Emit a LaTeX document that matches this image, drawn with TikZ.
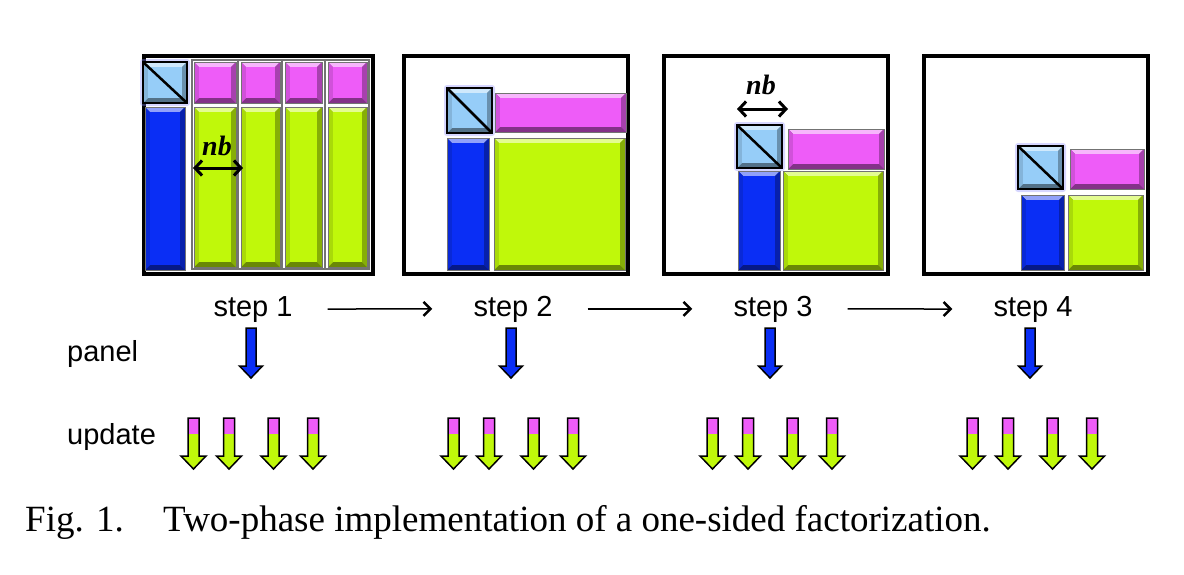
\documentclass[tikz,border=0pt]{standalone}
\usepackage{fontspec}
\setmainfont{Liberation Serif}
\newfontfamily\arialf{Liberation Sans}
\usetikzlibrary{arrows.meta}
\definecolor{lblue}{HTML}{96CDF8}
\definecolor{magc}{HTML}{EE5CF8}
\definecolor{dblue}{HTML}{0A2EF5}
\definecolor{lgreen}{HTML}{C0F80A}
\newcommand\bevw{5}
% bevelled block: x1 y1 x2 y2 colour
\newcommand\bev[5]{%
 \fill[#5!55!black] (#1,#2) rectangle (#3,#4);
 \fill[#5!45!white] (#1,#2) -- (#3,#2) -- ({#3-\bevw},{#2+\bevw}) -- ({#1+\bevw},{#2+\bevw}) -- cycle;
 \fill[#5!88!black] (#1,#2) -- ({#1+\bevw},{#2+\bevw}) -- ({#1+\bevw},{#4-\bevw}) -- (#1,#4) -- cycle;
 \fill[#5!70!black] (#3,#2) -- (#3,#4) -- ({#3-\bevw},{#4-\bevw}) -- ({#3-\bevw},{#2+\bevw}) -- cycle;
 \fill[#5] ({#1+\bevw},{#2+\bevw}) rectangle ({#3-\bevw},{#4-\bevw});
 \draw[black!55, line width=1] (#1,#2) rectangle (#3,#4);
}
% diagonal block
\newcommand\diagblk[4]{%
 \fill[blue!45, opacity=0.35, rounded corners=3] ({#1-3},{#2-3}) rectangle ({#3+3},{#4+3});
 \bev{#1}{#2}{#3}{#4}{lblue}
 \draw[black, line width=2.5] (#1,#2) rectangle (#3,#4);
 \draw[black, line width=2.5] (#1,#2) -- (#3,#4);
}
% panel arrow
\newcommand\parr[1]{%
 \draw[fill=dblue, line width=1.5, line join=miter] ({#1-5},328) -- ({#1+5},328) -- ({#1+5},366) -- ({#1+11.5},366) -- (#1,378) -- ({#1-11.5},366) -- ({#1-5},366) -- cycle;
}
% update arrow
\newcommand\uarr[1]{%
 \fill[lgreen] ({#1-5.5},434) -- ({#1+5.5},434) -- ({#1+5.5},456) -- ({#1+12.5},456) -- (#1,469) -- ({#1-12.5},456) -- ({#1-5.5},456) -- cycle;
 \fill[magc] ({#1-5.5},418) rectangle ({#1+5.5},434);
 \draw[line width=1.5, line join=miter] ({#1-5.5},418) -- ({#1+5.5},418) -- ({#1+5.5},456) -- ({#1+12.5},456) -- (#1,469) -- ({#1-12.5},456) -- ({#1-5.5},456) -- cycle;
}
\newcommand\ufour[1]{\uarr{#1-57.5}\uarr{#1-22}\uarr{#1+22.5}\uarr{#1+62}}
\tikzset{
 boxframe/.style={draw=black, line width=4.5},
 colframe/.style={draw=black!55, line width=2.5},
 steplbl/.style={font=\arialf\fontsize{29}{34}\selectfont, inner sep=0, anchor=base},
 rowlbl/.style={font=\arialf\fontsize{29}{34}\selectfont, inner sep=0, anchor=base west},
 nblbl/.style={font=\fontsize{28}{32}\selectfont\bfseries\itshape, inner sep=0, anchor=base},
 nbarrow/.style={line width=3, {Straight Barb[length=7pt,width=15pt,line width=3pt]}-{Straight Barb[length=7pt,width=15pt,line width=3pt]}},
 steparrow/.style={line width=1.5, -{Straight Barb[length=7pt,width=14pt,line width=2.5pt]}},
 capt/.style={font=\fontsize{37}{42}\selectfont, inner sep=0, anchor=base west}
}
\begin{document}
\begin{tikzpicture}[x=1pt, y=-1pt]
\useasboundingbox[fill=white] (0,0) rectangle (1184,574);
% ---------- panel 1
\draw[boxframe] (144,56) rectangle (373,274);
\foreach \a/\b in {192/238, 238/282, 282/325, 325/369}
  \draw[colframe] (\a,60) rectangle (\b,269);
\bev{194}{62}{236}{103}{magc}
\bev{241}{62}{280}{103}{magc}
\bev{285}{62}{322}{103}{magc}
\bev{328}{62}{367}{103}{magc}
\bev{194}{107}{236}{267}{lgreen}
\bev{241}{107}{280}{267}{lgreen}
\bev{285}{107}{322}{267}{lgreen}
\bev{328}{107}{367}{267}{lgreen}
\bev{145}{107}{185}{270}{dblue}
\diagblk{143}{62}{187}{103}
\coordinate (nb1a) at (193,168);
\coordinate (nb1b) at (243,168);
\draw[nbarrow] (nb1a) -- (nb1b);
\node[nblbl] (nb1) at (217,155) {nb};
% ---------- panel 2
\draw[boxframe] (404,56) rectangle (628,274);
\bev{495}{93}{626}{132}{magc}
\bev{447}{138}{489}{270}{dblue}
\bev{494}{138}{625}{270}{lgreen}
\diagblk{447}{88}{492}{133}
% ---------- panel 3
\draw[boxframe] (664,56) rectangle (888,274);
\bev{788}{129}{884}{169}{magc}
\bev{738}{171}{780}{270}{dblue}
\bev{783}{171}{883}{270}{lgreen}
\diagblk{737}{125}{782}{168}
\coordinate (nb3a) at (737,109);
\coordinate (nb3b) at (788,109);
\draw[nbarrow] (nb3a) -- (nb3b);
\node[nblbl] (nb3) at (761,94) {nb};
% ---------- panel 4
\draw[boxframe] (924,56) rectangle (1148,274);
\bev{1070}{149}{1144}{189}{magc}
\bev{1021}{195}{1064}{270}{dblue}
\bev{1068}{195}{1143}{270}{lgreen}
\diagblk{1018}{146}{1063}{189}
% ---------- step labels
\node[steplbl] (s1) at (253,316) {step 1};
\node[steplbl] (s2) at (513,316) {step 2};
\node[steplbl] (s3) at (773,316) {step 3};
\node[steplbl] (s4) at (1033,316) {step 4};
\draw[steparrow] ([xshift=35]s1.east) -- ([xshift=-41]s2.west);
\draw[steparrow] ([xshift=35]s2.east) -- ([xshift=-41]s3.west);
\draw[steparrow] ([xshift=35]s3.east) -- ([xshift=-41]s4.west);
% ---------- rows
\node[rowlbl] (panel) at (67,361) {panel};
\node[rowlbl] (update) at (67,444) {update};
\parr{251}\parr{511}\parr{770}\parr{1030}
\ufour{251}\ufour{511}\ufour{770}\ufour{1030}
% ---------- caption
\node[capt] (fig) at (25,531) {Fig. 1.};
\node[capt] (cap) at (163,531) {Two-phase implementation of a one-sided factorization.};
\end{tikzpicture}
\end{document}
